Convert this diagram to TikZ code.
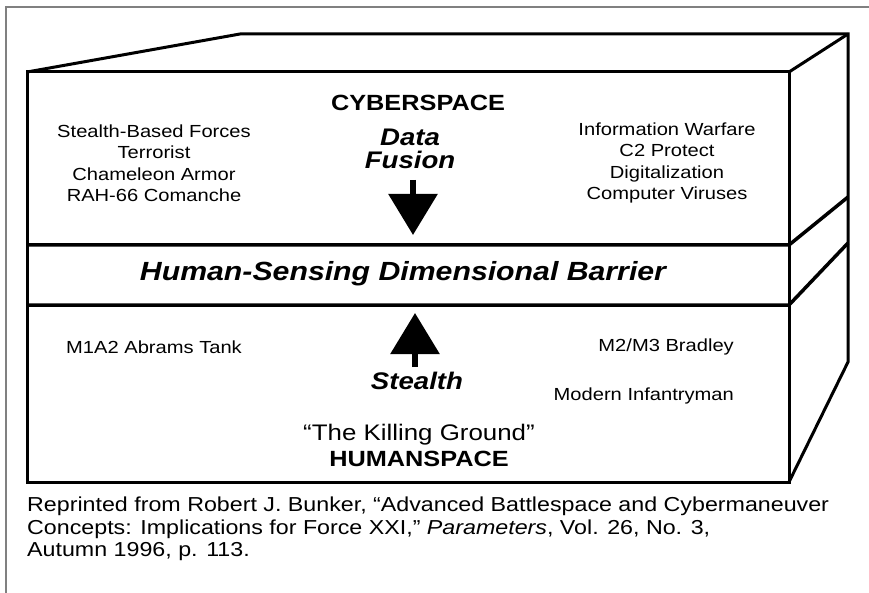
\documentclass[tikz,border=0pt]{standalone}
\usepackage{fontspec}
\setmainfont[FakeStretch=1.15]{Liberation Sans}
\usetikzlibrary{arrows.meta, positioning}
\tikzset{
    boxline/.style={line width=3pt, line join=miter},
    bandline/.style={line width=3.5pt},
    itemtext/.style={font=\fontsize{17.5}{21.5}\selectfont, align=center,
        inner sep=0pt},
    headtext/.style={font=\fontsize{22}{24}\selectfont\bfseries,
        inner sep=0pt},
    bigtext/.style={font=\fontsize{24}{23}\selectfont\bfseries\itshape,
        align=center, inner sep=0pt},
    fatarrow/.style={line width=6pt, -{Triangle[width=48pt, length=41pt]}},
}

\begin{document}
\begin{tikzpicture}[x=1pt, y=-1pt]
    \useasboundingbox (0, 0) rectangle (869, 593);
    \draw[gray, line width=1.5pt] (6, 593) -- (6, 7) -- (869, 7);
    \coordinate (frontnw) at (27, 72);
    \coordinate (frontne) at (789, 72);
    \coordinate (frontse) at (789, 482);
    \coordinate (frontsw) at (27, 482);
    \coordinate (backnw) at (240, 34);
    \coordinate (backne) at (848, 34);
    \coordinate (backse) at (848, 362);
    \draw[boxline] (frontnw) -- (frontne) -- (frontse) -- (frontsw) -- cycle;
    \draw[boxline] (frontnw) -- (backnw) -- (backne) -- (backse) -- (frontse);
    \draw[boxline] (frontne) -- (backne);
    \draw[bandline] (27, 245) -- (789, 245) -- (848, 197);
    \draw[bandline] (27, 305) -- (789, 305) -- (848, 243);
    \node[headtext] (cyberspace) at (418, 103) {CYBERSPACE};
    \node[bigtext] (datafusion) at (410, 149) {Data\\Fusion};
    \node[itemtext] (stealthforces) at (154, 163)
        {Stealth-Based Forces\\Terrorist\\Chameleon Armor\\RAH-66 Comanche};
    \node[itemtext] (infowar) at (667, 163)
        {Information Warfare\\C2 Protect\\Digitalization\\Computer Viruses};
    \coordinate (downtail) at (413, 180);
    \coordinate (downtip) at (413, 235);
    \draw[fatarrow] (downtail) -- (downtip);
    \node[font=\fontsize{26.3}{28}\selectfont\bfseries\itshape, inner sep=0pt]
        (barrier) at (403, 274) {Human-Sensing Dimensional Barrier};
    \coordinate (uptail) at (415, 367);
    \coordinate (uptip) at (415, 313);
    \draw[fatarrow] (uptail) -- (uptip);
    \node[itemtext] (abrams) at (154, 347) {M1A2 Abrams Tank};
    \node[itemtext, anchor=east] (bradley) at (734, 347) {M2/M3 Bradley};
    \node[itemtext, anchor=east] (infantry) at (734, 396)
        {Modern Infantryman};
    \node[bigtext] (stealth) at (417, 381) {Stealth};
    \node[font=\fontsize{22.5}{24}\selectfont, inner sep=0pt] (killing)
        at (419, 435) {``The Killing Ground''};
    \node[headtext, below=5pt of killing] (humanspace) {HUMANSPACE};
    \node[font=\fontsize{20.2}{22.5}\selectfont, align=left, inner sep=0pt,
        anchor=north west] (source) at (27, 497)
        {Reprinted from Robert J. Bunker, ``Advanced Battlespace and
        Cybermaneuver\\Concepts: Implications for Force XXI,''
        \textit{Parameters}, Vol. 26, No. 3,\\Autumn 1996, p. 113.};
\end{tikzpicture}
\end{document}
